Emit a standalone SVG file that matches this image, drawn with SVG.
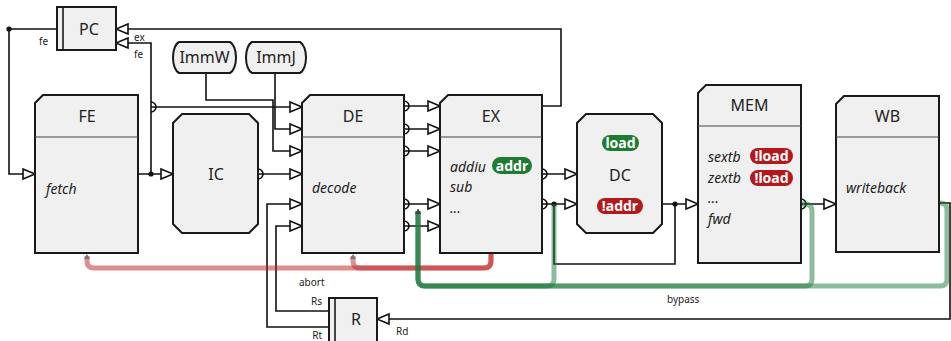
<svg xmlns="http://www.w3.org/2000/svg" width="951" height="341" viewBox="0 0 951 341">
<style>
.box{fill:#f0f0f0;stroke:#1a1a1a;stroke-width:2;stroke-linejoin:miter}
.dv{stroke:#444;stroke-width:1.2;fill:none}
.w{fill:none;stroke:#111;stroke-width:1.6}
.t{font-family:"Noto Sans","Open Sans",sans-serif;fill:#222}
.ti{font-size:16px;text-anchor:middle}
.it{font-size:14px;font-style:italic}
.sm{font-size:10px}
.bg{font-family:"Noto Sans","Open Sans",sans-serif;font-size:14px;font-weight:bold;fill:#fff;text-anchor:middle}
.gr{fill:#1e7b34}
.rd{fill:#b3191b}
.ab{fill:none;stroke:#be1e1e;stroke-opacity:.5;stroke-width:5}
.bp{fill:none;stroke:#1b7a3c;stroke-opacity:.5;stroke-width:5}
.dot{fill:#111}
</style>
<defs>
<marker id="ar" markerUnits="userSpaceOnUse" markerWidth="16" markerHeight="14" viewBox="-14 -7 16 14" refX="0" refY="0" orient="auto">
<path d="M-12,-5 L0,0 L-12,5 Z" fill="#fff" stroke="#111" stroke-width="1.6"/>
</marker>
<marker id="pt" markerUnits="userSpaceOnUse" markerWidth="10" markerHeight="14" viewBox="-2 -7 10 14" refX="0" refY="0" orient="auto">
<path d="M0,-5 A5,5 0 0 1 0,5" fill="none" stroke="#111" stroke-width="1.6"/>
</marker>
<marker id="ca" markerUnits="userSpaceOnUse" markerWidth="12" markerHeight="12" viewBox="-6 -6 12 12" refX="0" refY="0" orient="auto">
<path d="M-3,-3 L2,0 L-3,3 Z" fill="#777"/>
</marker>
<marker id="cg" markerUnits="userSpaceOnUse" markerWidth="12" markerHeight="12" viewBox="-6 -6 12 12" refX="0" refY="0" orient="auto">
<path d="M-3,-3 L2,0 L-3,3 Z" fill="#444"/>
</marker>
</defs>
<rect width="951" height="341" fill="#fff"/>
<g id="connectors">
<path class="w" d="M57,29 H9 V174 H35" marker-end="url(#ar)"/>
<path class="w" d="M542,106 H561 V29 H116" marker-end="url(#ar)"/>
<path class="w" d="M151,174 V43 H116" marker-end="url(#ar)"/>
<path class="w" d="M138,174 H173" marker-end="url(#ar)"/>
<path class="w" d="M151,107 H302" marker-start="url(#pt)" marker-end="url(#ar)"/>
<path class="w" d="M275,73 V129 H302" marker-end="url(#ar)"/>
<path class="w" d="M206,73 V100 H273 V151 H302" marker-end="url(#ar)"/>
<path class="w" d="M258,174 H302" marker-start="url(#pt)" marker-end="url(#ar)"/>
<path class="w" d="M329,327 H267 V204 H302" marker-end="url(#ar)"/>
<path class="w" d="M329,311 H276 V226 H302" marker-end="url(#ar)"/>
<path class="w" d="M404,106 H440" marker-start="url(#pt)" marker-end="url(#ar)"/>
<path class="w" d="M404,129 H440" marker-start="url(#pt)" marker-end="url(#ar)"/>
<path class="w" d="M404,151 H440" marker-start="url(#pt)" marker-end="url(#ar)"/>
<path class="w" d="M404,204 H440" marker-start="url(#pt)" marker-end="url(#ar)"/>
<path class="w" d="M404,226 H440" marker-start="url(#pt)" marker-end="url(#ar)"/>
<path class="w" d="M542,174 H577" marker-start="url(#pt)" marker-end="url(#ar)"/>
<path class="w" d="M542,204 H577" marker-start="url(#pt)" marker-end="url(#ar)"/>
<path class="w" d="M554,204 V264 H675 V204"/>
<path class="w" d="M662,204 H698" marker-end="url(#ar)"/>
<path class="w" d="M801,204 H836" marker-start="url(#pt)" marker-end="url(#ar)"/>
<path class="w" d="M939,203 H950 V319 H377" marker-end="url(#ar)"/>
<circle class="dot" cx="9" cy="29" r="2.6"/>
<circle class="dot" cx="151" cy="174" r="2.6"/>
<circle class="dot" cx="554" cy="204" r="2.6"/>
<circle class="dot" cx="675" cy="204" r="2.6"/>
<text class="t sm" x="39" y="45">fe</text>
<text class="t sm" x="134" y="41">ex</text>
<text class="t sm" x="134" y="58">fe</text>
<text class="t sm" x="322" y="305" text-anchor="end">Rs</text>
<text class="t sm" x="322" y="339" text-anchor="end">Rt</text>
<text class="t sm" x="396" y="335">Rd</text>
</g>
<g id="abort">
<path class="ab" d="M491,253 V261 Q491,268 484,268 H94 Q87,268 87,261 V256" marker-end="url(#ca)"/>
<path class="ab" d="M491,253 V261 Q491,268 484,268 H360 Q353,268 353,261 V256" marker-end="url(#ca)"/>
<text class="t sm" x="299" y="286">abort</text>
</g>
<g id="bypass">
<path class="bp" d="M554,204 V279 Q554,286 547,286 H425 Q418,286 418,279 V211" marker-end="url(#cg)"/>
<path class="bp" d="M801,204 H805 Q812,204 812,211 V279 Q812,286 805,286 H425 Q418,286 418,279 V211" marker-end="url(#cg)"/>
<path class="bp" d="M939,203 H940 Q947,203 947,210 V279 Q947,286 940,286 H425 Q418,286 418,279 V211" marker-end="url(#cg)"/>
<text class="t sm" x="667" y="303">bypass</text>
</g>
<g id="PC">
<rect class="box" x="57" y="7" width="59" height="43"/>
<line x1="63" y1="7" x2="63" y2="50" stroke="#1a1a1a" stroke-width="1.6"/>
<text class="t ti" x="89" y="35">PC</text>
</g>
<g id="ImmW">
<path class="box" d="M179,42 H230 A8,16 0 0 1 230,73 H179 A8,16 0 0 1 179,42 Z"/>
<text class="t ti" x="204.5" y="63">ImmW</text>
</g>
<g id="ImmJ">
<path class="box" d="M252,42 H300 A8,16 0 0 1 300,73 H252 A8,16 0 0 1 252,42 Z"/>
<text class="t ti" x="276" y="63">ImmJ</text>
</g>
<g id="FE">
<path class="box" d="M43,95 H138 V253 H35 V103 Z"/>
<line class="dv" x1="35" y1="137" x2="138" y2="137"/>
<text class="t ti" x="87" y="122">FE</text>
<text class="t it" x="46" y="194">fetch</text>
</g>
<g id="IC">
<path class="box" d="M182,114 H249 L258,123 V224 L249,233 H182 L173,224 V123 Z"/>
<text class="t ti" x="216" y="180">IC</text>
</g>
<g id="DE">
<path class="box" d="M310,95 H404 V253 H302 V103 Z"/>
<line class="dv" x1="302" y1="137" x2="404" y2="137"/>
<text class="t ti" x="353" y="122">DE</text>
<text class="t it" x="312" y="193">decode</text>
</g>
<g id="EX">
<path class="box" d="M448,95 H542 V253 H440 V103 Z"/>
<line class="dv" x1="440" y1="137" x2="542" y2="137"/>
<text class="t ti" x="491" y="122">EX</text>
<text class="t it" x="450" y="172">addiu</text>
<rect class="gr" x="492" y="157" width="40" height="17" rx="8.5"/>
<text class="bg" x="512" y="170.5">addr</text>
<text class="t it" x="450" y="192">sub</text>
<text class="t it" x="450" y="213">...</text>
</g>
<g id="DC">
<path class="box" d="M586,114 H653 L662,123 V224 L653,233 H586 L577,224 V123 Z"/>
<rect class="gr" x="602" y="135" width="37" height="16" rx="8"/>
<text class="bg" x="620.5" y="148">load</text>
<text class="t ti" x="620" y="181">DC</text>
<rect class="rd" x="597" y="198" width="46" height="16" rx="8"/>
<text class="bg" x="620" y="211">!addr</text>
</g>
<g id="MEM">
<path class="box" d="M706,85 H801 V263 H698 V93 Z"/>
<line class="dv" x1="698" y1="126" x2="801" y2="126"/>
<text class="t ti" x="749.5" y="111">MEM</text>
<text class="t it" x="708" y="162">sextb</text>
<rect class="rd" x="750" y="148" width="43" height="16" rx="8"/>
<text class="bg" x="771.5" y="161">!load</text>
<text class="t it" x="708" y="183">zextb</text>
<rect class="rd" x="750" y="170" width="43" height="16" rx="8"/>
<text class="bg" x="771.5" y="183">!load</text>
<text class="t it" x="708" y="203">...</text>
<text class="t it" x="708" y="224">fwd</text>
</g>
<g id="WB">
<path class="box" d="M844,96 H939 V252 H836 V104 Z"/>
<line class="dv" x1="836" y1="137" x2="939" y2="137"/>
<text class="t ti" x="887.5" y="122">WB</text>
<text class="t it" x="846" y="193">writeback</text>
</g>
<g id="R">
<rect class="box" x="329" y="298" width="48" height="46"/>
<line x1="335" y1="298" x2="335" y2="341" stroke="#1a1a1a" stroke-width="1.6"/>
<text class="t ti" x="356" y="325">R</text>
</g>
</svg>
